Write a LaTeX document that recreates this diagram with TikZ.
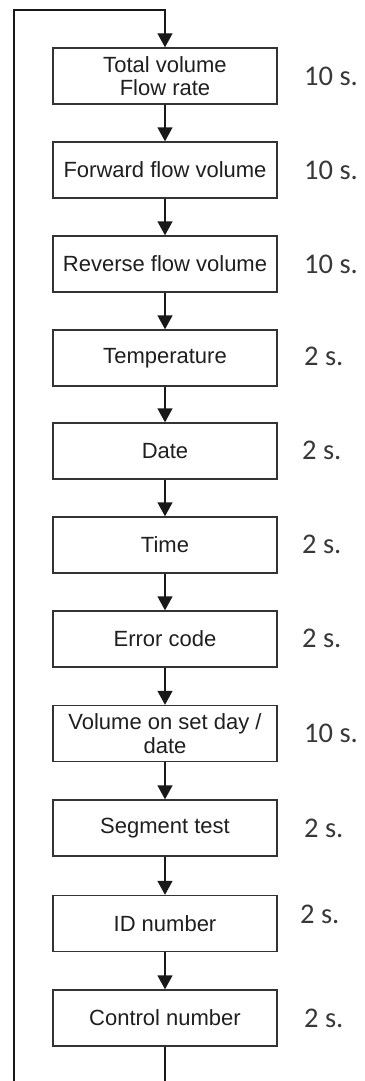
\documentclass[tikz,border=0pt]{standalone}
\usepackage{fontspec}
\setmainfont{Liberation Sans}
\newfontfamily\labelfont{Carlito}
\usetikzlibrary{arrows.meta}

\begin{document}
\begin{tikzpicture}[x=1pt,y=-1pt,
  stage/.style={draw=black!80, line width=1.4pt, fill=white,
    minimum width=224pt, minimum height=56pt, inner sep=0pt,
    align=center, text=black!88,
    font=\fontsize{22pt}{23.5pt}\selectfont},
  dwell/.style={anchor=west, inner sep=0pt, text=black!78,
    font=\labelfont\fontsize{28.5pt}{30pt}\selectfont},
  flow/.style={draw=black!90, line width=1.4pt,
    -{Triangle[width=15pt,length=14pt]}},
  plain/.style={draw=black!90, line width=1.4pt}]
  \useasboundingbox (0,0) rectangle (364,1081);

  % display sequence
  \node[stage] (b1)  at (165,76)   {Total volume\\Flow rate};
  \node[stage] (b2)  at (165,170)  {Forward flow volume};
  \node[stage] (b3)  at (165,264)  {Reverse flow volume};
  \node[stage] (b4)  at (165,358)  {Temperature};
  \node[stage] (b5)  at (165,451)  {Date};
  \node[stage] (b6)  at (165,545)  {Time};
  \node[stage] (b7)  at (165,639)  {Error code};
  \node[stage] (b8)  at (165,733.5){Volume on set day /\\date};
  \node[stage] (b9)  at (165,828)  {Segment test};
  \node[stage] (b10) at (165,923.5){ID number};
  \node[stage] (b11) at (165,1018) {Control number};

  % display durations
  \node[dwell] (t1)  at (304,76)   {10 s.};
  \node[dwell] (t2)  at (304,170)  {10 s.};
  \node[dwell] (t3)  at (304,264)  {10 s.};
  \node[dwell] (t4)  at (304,356)  {2 s.};
  \node[dwell] (t5)  at (302,450)  {2 s.};
  \node[dwell] (t6)  at (302,544)  {2 s.};
  \node[dwell] (t7)  at (302,638)  {2 s.};
  \node[dwell] (t8)  at (304,733)  {10 s.};
  \node[dwell] (t9)  at (304,828)  {2 s.};
  \node[dwell] (t10) at (300,914)  {2 s.};
  \node[dwell] (t11) at (304,1018) {2 s.};

  % forward steps
  \foreach \a/\b in {b1/b2,b2/b3,b3/b4,b4/b5,b5/b6,b6/b7,b7/b8,b8/b9,b9/b10,b10/b11}
    \draw[flow] (\a) -- (\b);

  % return loop
  \coordinate (tailEnd) at (165,1081);
  \coordinate (loopBottom) at (14,1081);
  \coordinate (loopCorner) at (14,10);
  \coordinate (loopTop) at (165,10);
  \draw[plain] (b11.south) -- (tailEnd);
  \draw[flow] (loopBottom) -- (loopCorner) -- (loopTop) -- (b1.north);
\end{tikzpicture}
\end{document}
